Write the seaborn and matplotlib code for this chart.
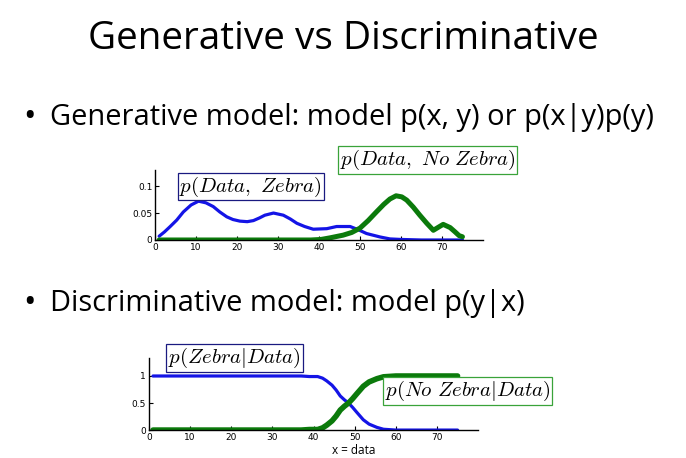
import matplotlib
matplotlib.use("Agg")
import matplotlib.pyplot as plt
import pandas as pd
import seaborn as sns

# generative model: joint densities
gen_x = [1, 2.3, 3.7, 5.3, 6.9, 8.8, 10.6, 12.4, 14.2, 15.8, 17.5, 19, 20.7, 22.5,
         24, 25.5, 26.8, 28.9, 31.3, 33, 34.6, 36.5, 38.6, 41.9, 44.3, 47.6, 49.6,
         51.6, 54.9, 57.3, 60, 65, 70, 75]
gen_zebra = [0.007, 0.015, 0.025, 0.037, 0.052, 0.065, 0.072, 0.069, 0.062, 0.052,
             0.043, 0.038, 0.035, 0.034, 0.036, 0.041, 0.046, 0.050, 0.046, 0.039,
             0.031, 0.025, 0.020, 0.021, 0.025, 0.025, 0.019, 0.012, 0.0056, 0.002,
             0.001, 0.0, 0.0, 0.0]
gen_nozebra_x = [1, 10, 20, 30, 38, 40.5, 42.7, 45.9, 48, 50, 52, 54, 55.8, 57.3,
                 58.8, 60.2, 61.4, 63, 64.6, 66.3, 67.9, 69.2, 70.3, 72, 73.2, 74.2, 75]
gen_nozebra = [0.0, 0.0, 0.0, 0.0, 0.0, 0.001, 0.004, 0.009, 0.014, 0.022, 0.036,
               0.052, 0.066, 0.076, 0.082, 0.080, 0.074, 0.061, 0.046, 0.031, 0.018,
               0.024, 0.029, 0.023, 0.015, 0.008, 0.006]

# discriminative model: posteriors
dis_x = [1, 10, 20, 30, 37, 39, 41, 42.2, 43.2, 44.5, 45.5, 46.5, 47.5, 48.5, 49.5,
         50.5, 51.3, 52.1, 53.5, 55.4, 57, 60, 65, 70, 75]
dis_zebra = [1.0, 1.0, 1.0, 1.0, 1.0, 0.99, 0.99, 0.96, 0.91, 0.83, 0.74, 0.63,
             0.56, 0.50, 0.42, 0.33, 0.26, 0.19, 0.11, 0.05, 0.015, 0.0, 0.0, 0.0, 0.0]
dis_nozebra = [0.0, 0.0, 0.0, 0.0, 0.0, 0.01, 0.01, 0.04, 0.09, 0.17, 0.26, 0.37,
               0.44, 0.50, 0.58, 0.67, 0.74, 0.81, 0.89, 0.95, 0.985, 1.0, 1.0, 1.0, 1.0]

BLUE = "#1414e6"
GREEN = "#0b7a0b"

sns.set_style("white")
plt.rcParams["mathtext.fontset"] = "cm"
plt.rcParams["text.color"] = "black"
plt.rcParams["axes.labelcolor"] = "black"
plt.rcParams["xtick.color"] = "black"
plt.rcParams["ytick.color"] = "black"

fig = plt.figure(figsize=(6.86, 4.58), dpi=100)
fig.text(0.5, 0.915, "Generative vs Discriminative", ha="center", va="center",
         fontsize=27.9, family="Open Sans")
fig.text(0.034, 0.744, "•", ha="left", va="center", fontsize=24, family="Open Sans")
fig.text(0.073, 0.744, "Generative model: model p(x, y) or p(x|y)p(y)",
         ha="left", va="center", fontsize=20.9, family="Open Sans")
fig.text(0.034, 0.338, "•", ha="left", va="center", fontsize=24, family="Open Sans")
fig.text(0.073, 0.338, "Discriminative model: model p(y|x)",
         ha="left", va="center", fontsize=20.9, family="Open Sans")


def style_axes(ax):
    sns.despine(ax=ax)
    for s in ("left", "bottom"):
        ax.spines[s].set_linewidth(1.0)
        ax.spines[s].set_color("black")
    ax.tick_params(direction="in", length=3, width=0.8, labelsize=6.5, pad=2,
                   bottom=True, left=True)
    ax.set_xticks(range(0, 80, 10))
    ax.set_xlim(0, 80)
    ax.set_ylabel("")


# top chart
ax1 = fig.add_axes([0.226, 0.476, 0.478, 0.153])
sns.lineplot(data=pd.DataFrame({"x": gen_x, "y": gen_zebra}), x="x", y="y",
             ax=ax1, color=BLUE, linewidth=2.3)
sns.lineplot(data=pd.DataFrame({"x": gen_nozebra_x, "y": gen_nozebra}), x="x", y="y",
             ax=ax1, color=GREEN, linewidth=3.6)
style_axes(ax1)
ax1.set_ylim(0, 0.13)
ax1.set_yticks([0, 0.05, 0.1])
ax1.set_yticklabels(["0", "0.05", "0.1"])
ax1.set_xlabel("")
ax1.text(23.3, 0.099, r"$p(Data,\ Zebra)$", ha="center", va="center", fontsize=15,
         bbox=dict(boxstyle="square,pad=0.08", fc="white", ec="#1a1a80", lw=0.9))
ax1.text(66.5, 0.148, r"$p(Data,\ No\ Zebra)$", ha="center", va="center",
         fontsize=15, clip_on=False,
         bbox=dict(boxstyle="square,pad=0.08", fc="white", ec="#3aa33a", lw=0.9))

# bottom chart
ax2 = fig.add_axes([0.217, 0.061, 0.480, 0.157])
sns.lineplot(data=pd.DataFrame({"x": dis_x, "y": dis_zebra}), x="x", y="y",
             ax=ax2, color=BLUE, linewidth=2.3)
sns.lineplot(data=pd.DataFrame({"x": dis_x, "y": dis_nozebra}), x="x", y="y",
             ax=ax2, color=GREEN, linewidth=4.0)
style_axes(ax2)
ax2.set_ylim(0, 1.33)
ax2.set_yticks([0, 0.5, 1])
ax2.set_yticklabels(["0", "0.5", "1"])
ax2.set_xlabel("x = data", fontsize=8.5, family="Open Sans")
ax2.xaxis.set_label_coords(0.623, -0.19)
ax2.text(20.8, 1.33, r"$p(Zebra|Data)$", ha="center", va="center", fontsize=15,
         clip_on=False,
         bbox=dict(boxstyle="square,pad=0.08", fc="white", ec="#1a1a80", lw=0.9))
ax2.text(77.5, 0.72, r"$p(No\ Zebra|Data)$", ha="center", va="center", fontsize=15,
         clip_on=False,
         bbox=dict(boxstyle="square,pad=0.08", fc="white", ec="#3aa33a", lw=0.9))

fig.savefig("out.png", dpi=100)
